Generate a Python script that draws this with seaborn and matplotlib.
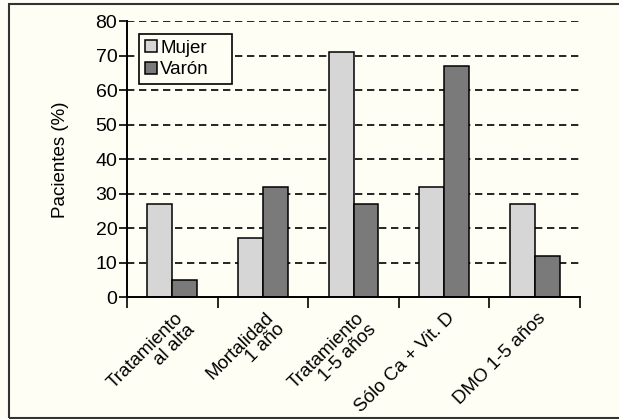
import matplotlib
matplotlib.use("Agg")
import matplotlib.pyplot as plt
import matplotlib.transforms as mtransforms
import seaborn as sns
import pandas as pd
from matplotlib.patches import Rectangle

categories = ["Tratamiento\nal alta", "Mortalidad\n1 año", "Tratamiento\n1-5 años",
              "Sólo Ca + Vit. D", "DMO 1-5 años"]
groups = ["Mujer", "Varón"]
mujer = [27, 17, 71, 32, 27]
varon = [5, 32, 27, 67, 12]
y_ticks = [0, 10, 20, 30, 40, 50, 60, 70, 80]

bg = "#fefef4"
colors = {"Mujer": "#d6d6d6", "Varón": "#7a7a7a"}

df = pd.DataFrame({
    "categoria": categories * 2,
    "sexo": [groups[0]] * len(categories) + [groups[1]] * len(categories),
    "valor": mujer + varon,
})

sns.set_theme(style="white")
plt.rcParams["font.family"] = ["Liberation Sans", "DejaVu Sans"]
plt.rcParams["text.color"] = "black"
plt.rcParams["xtick.color"] = "black"
plt.rcParams["ytick.color"] = "black"
plt.rcParams["axes.labelcolor"] = "black"

W, H = 619, 419
fig = plt.figure(figsize=(W / 100, H / 100), dpi=100, facecolor=bg)
ax = fig.add_axes([127 / W, 1 - 297 / H, (580 - 127) / W, (297 - 21.5) / H])
ax.set_facecolor(bg)

sns.barplot(data=df, x="categoria", y="valor", hue="sexo", order=categories,
            hue_order=groups, palette=colors, width=0.55, edgecolor="black",
            linewidth=1.1, saturation=1, ax=ax, legend=True)

ax.set_xlim(-0.5, len(categories) - 0.5)
ax.set_ylim(0, 80)
ax.set_yticks(y_ticks)
ax.tick_params(axis="y", labelsize=14, length=6, width=1.2, direction="out",
               left=True, pad=1)
for y in y_ticks[1:]:
    ax.axhline(y, color="black", linestyle=(0, (4.4, 2.8)), linewidth=1.2, zorder=0)

# category boundaries as major ticks, labels on minor ticks
ax.set_xticks([i - 0.5 for i in range(len(categories) + 1)])
ax.set_xticklabels([])
ax.set_xticks(range(len(categories)), minor=True)
ax.set_xticklabels(categories, minor=True, rotation=45, ha="right",
                   rotation_mode="anchor", va="top", multialignment="right",
                   fontsize=13.5, linespacing=0.95)
ax.tick_params(axis="x", which="major", length=8, width=1.2, direction="out",
               bottom=True)
ax.tick_params(axis="x", which="minor", length=0, pad=9)
shift = mtransforms.ScaledTranslation(2 / 100, 0, fig.dpi_scale_trans)
for lbl in ax.get_xticklabels(minor=True):
    lbl.set_transform(lbl.get_transform() + shift)

for side in ["top", "right"]:
    ax.spines[side].set_visible(False)
for side in ["left", "bottom"]:
    ax.spines[side].set_color("black")
    ax.spines[side].set_linewidth(1.4)

ax.set_xlabel("")
ax.set_ylabel("Pacientes (%)", fontsize=13.5, labelpad=19)

leg = ax.legend(loc="upper left",
                bbox_to_anchor=(139 / W, 1 - 83 / H, 93 / W, 49 / H),
                bbox_transform=fig.transFigure, mode="expand", frameon=True,
                fancybox=False, fontsize=13.5, handlelength=0.64,
                handleheight=0.64, handletextpad=0.2, labelspacing=0.25,
                borderpad=0.3, borderaxespad=0)
leg.get_frame().set_edgecolor("black")
leg.get_frame().set_facecolor(bg)
leg.get_frame().set_linewidth(1.2)
leg.get_frame().set_alpha(1)

fig.patches.append(Rectangle((9 / W, 1.5 / H), 1.0, 1 - 5.5 / H,
                             transform=fig.transFigure, fill=False,
                             edgecolor="#333333", linewidth=1.5))

fig.savefig("out.png", dpi=100, facecolor=bg)
